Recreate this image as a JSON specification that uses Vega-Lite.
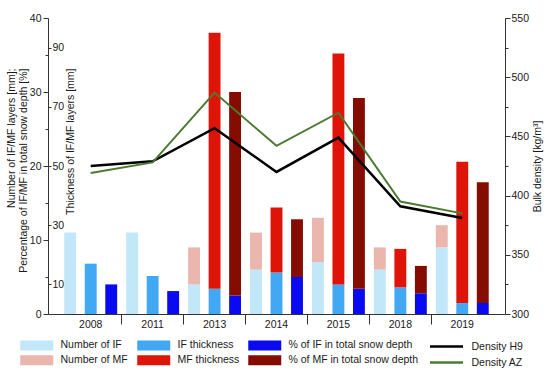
{
  "$schema": "https://vega.github.io/schema/vega-lite/v6.json",
  "width": 457,
  "height": 296,
  "autosize": "none",
  "padding": {"left": 48, "top": 18, "right": 45, "bottom": 58},
  "background": "white",
  "config": {
    "view": {"stroke": null},
    "font": "Liberation Sans",
    "axis": {"labelFont": "Liberation Sans", "labelFontSize": 10.5, "labelColor": "#1a1a1a", "titleFont": "Liberation Sans", "titleFontSize": 10.5, "titleFontWeight": "normal", "titleColor": "#1a1a1a", "domainColor": "#333333", "tickColor": "#333333", "grid": false},
    "legend": {"labelFont": "Liberation Sans", "labelFontSize": 10.5, "labelColor": "#1a1a1a", "padding": 0}
  },
  "datasets": {
    "num": [
      {"year": "2008", "kind": "n", "layer": "IF", "cat": "Number of IF", "value": 11},
      {"year": "2008", "kind": "n", "layer": "MF", "cat": "Number of MF", "value": 0},
      {"year": "2011", "kind": "n", "layer": "IF", "cat": "Number of IF", "value": 11},
      {"year": "2011", "kind": "n", "layer": "MF", "cat": "Number of MF", "value": 0},
      {"year": "2013", "kind": "n", "layer": "IF", "cat": "Number of IF", "value": 4},
      {"year": "2013", "kind": "n", "layer": "MF", "cat": "Number of MF", "value": 5},
      {"year": "2014", "kind": "n", "layer": "IF", "cat": "Number of IF", "value": 6},
      {"year": "2014", "kind": "n", "layer": "MF", "cat": "Number of MF", "value": 5},
      {"year": "2015", "kind": "n", "layer": "IF", "cat": "Number of IF", "value": 7},
      {"year": "2015", "kind": "n", "layer": "MF", "cat": "Number of MF", "value": 6},
      {"year": "2018", "kind": "n", "layer": "IF", "cat": "Number of IF", "value": 6},
      {"year": "2018", "kind": "n", "layer": "MF", "cat": "Number of MF", "value": 3},
      {"year": "2019", "kind": "n", "layer": "IF", "cat": "Number of IF", "value": 9},
      {"year": "2019", "kind": "n", "layer": "MF", "cat": "Number of MF", "value": 3}
    ],
    "pct": [
      {"year": "2008", "kind": "p", "layer": "IF", "cat": "% of IF in total snow depth", "value": 4},
      {"year": "2008", "kind": "p", "layer": "MF", "cat": "% of MF in total snow depth", "value": 0},
      {"year": "2011", "kind": "p", "layer": "IF", "cat": "% of IF in total snow depth", "value": 3.1},
      {"year": "2011", "kind": "p", "layer": "MF", "cat": "% of MF in total snow depth", "value": 0},
      {"year": "2013", "kind": "p", "layer": "IF", "cat": "% of IF in total snow depth", "value": 2.5},
      {"year": "2013", "kind": "p", "layer": "MF", "cat": "% of MF in total snow depth", "value": 27.5},
      {"year": "2014", "kind": "p", "layer": "IF", "cat": "% of IF in total snow depth", "value": 5},
      {"year": "2014", "kind": "p", "layer": "MF", "cat": "% of MF in total snow depth", "value": 7.8},
      {"year": "2015", "kind": "p", "layer": "IF", "cat": "% of IF in total snow depth", "value": 3.4},
      {"year": "2015", "kind": "p", "layer": "MF", "cat": "% of MF in total snow depth", "value": 25.8},
      {"year": "2018", "kind": "p", "layer": "IF", "cat": "% of IF in total snow depth", "value": 2.8},
      {"year": "2018", "kind": "p", "layer": "MF", "cat": "% of MF in total snow depth", "value": 3.7},
      {"year": "2019", "kind": "p", "layer": "IF", "cat": "% of IF in total snow depth", "value": 1.5},
      {"year": "2019", "kind": "p", "layer": "MF", "cat": "% of MF in total snow depth", "value": 16.3}
    ],
    "thk": [
      {"year": "2008", "kind": "t", "layer": "IF", "cat": "IF thickness", "value": 17},
      {"year": "2008", "kind": "t", "layer": "MF", "cat": "MF thickness", "value": 0},
      {"year": "2011", "kind": "t", "layer": "IF", "cat": "IF thickness", "value": 12.8},
      {"year": "2011", "kind": "t", "layer": "MF", "cat": "MF thickness", "value": 0},
      {"year": "2013", "kind": "t", "layer": "IF", "cat": "IF thickness", "value": 8.5},
      {"year": "2013", "kind": "t", "layer": "MF", "cat": "MF thickness", "value": 86.5},
      {"year": "2014", "kind": "t", "layer": "IF", "cat": "IF thickness", "value": 14},
      {"year": "2014", "kind": "t", "layer": "MF", "cat": "MF thickness", "value": 22},
      {"year": "2015", "kind": "t", "layer": "IF", "cat": "IF thickness", "value": 10},
      {"year": "2015", "kind": "t", "layer": "MF", "cat": "MF thickness", "value": 78},
      {"year": "2018", "kind": "t", "layer": "IF", "cat": "IF thickness", "value": 9},
      {"year": "2018", "kind": "t", "layer": "MF", "cat": "MF thickness", "value": 13},
      {"year": "2019", "kind": "t", "layer": "IF", "cat": "IF thickness", "value": 3.7},
      {"year": "2019", "kind": "t", "layer": "MF", "cat": "MF thickness", "value": 47.7}
    ],
    "dens": [
      {"year": "2008", "site": "Density H9", "density": 425},
      {"year": "2011", "site": "Density H9", "density": 429},
      {"year": "2013", "site": "Density H9", "density": 457},
      {"year": "2014", "site": "Density H9", "density": 420},
      {"year": "2015", "site": "Density H9", "density": 449},
      {"year": "2018", "site": "Density H9", "density": 391},
      {"year": "2019", "site": "Density H9", "density": 381},
      {"year": "2008", "site": "Density AZ", "density": 419},
      {"year": "2011", "site": "Density AZ", "density": 428},
      {"year": "2013", "site": "Density AZ", "density": 487},
      {"year": "2014", "site": "Density AZ", "density": 442},
      {"year": "2015", "site": "Density AZ", "density": 470},
      {"year": "2018", "site": "Density AZ", "density": 395},
      {"year": "2019", "site": "Density AZ", "density": 385}
    ]
  },
  "layer": [
    {
      "data": {"name": "num"},
      "mark": {"type": "bar"},
      "encoding": {
        "x": {"field": "year", "type": "nominal", "scale": {"paddingInner": 0, "paddingOuter": 0.19},
              "axis": {"title": null, "bandPosition": 0, "tickSize": 10, "labelPadding": -5, "labelAngle": 0, "labelBaseline": "top", "tickColor": {"condition": {"test": "datum.value === '2008'", "value": "transparent"}, "value": "#333333"}}},
        "xOffset": {"field": "kind", "type": "nominal", "scale": {"domain": ["n", "t", "p"], "paddingInner": 0.42, "paddingOuter": 0.22}},
        "y": {"field": "value", "type": "quantitative", "stack": "zero", "scale": {"domain": [0, 40], "nice": false},
              "axis": {"orient": "left", "values": [0, 10, 20, 30, 40], "tickSize": 5, "labelPadding": 2,
                       "title": ["Number of IF/MF layers [mm];", "Percentage of IF/MF in total snow depth [%]"],
                       "titleAngle": 270, "titleAlign": "right", "titleBaseline": "bottom", "titleX": -32, "titleY": 50, "titleLineHeight": 12}},
        "color": {"field": "cat", "type": "nominal",
                  "scale": {"domain": ["Number of IF", "Number of MF", "IF thickness", "MF thickness", "% of IF in total snow depth", "% of MF in total snow depth"],
                            "range": ["#c2e7f8", "#eab6ae", "#42a8f4", "#de1408", "#0a0af0", "#850c00"]},
                  "legend": {"orient": "none", "legendX": -16.5, "legendY": 322, "columns": 3, "title": null, "symbolType": "M-3.3,-1H3.3V1H-3.3Z", "symbolSize": 100, "labelOffset": 18.5, "columnPadding": 8, "rowPadding": 4, "symbolStrokeWidth": 0}},
        "order": {"field": "layer"}
      }
    },
    {
      "data": {"name": "pct"},
      "mark": {"type": "bar"},
      "encoding": {
        "x": {"field": "year", "type": "nominal", "scale": {"paddingInner": 0, "paddingOuter": 0.19},
              "axis": {"title": null, "bandPosition": 0, "tickSize": 10, "labelPadding": -5, "labelAngle": 0, "labelBaseline": "top", "tickColor": {"condition": {"test": "datum.value === '2008'", "value": "transparent"}, "value": "#333333"}}},
        "xOffset": {"field": "kind", "type": "nominal", "scale": {"domain": ["n", "t", "p"], "paddingInner": 0.42, "paddingOuter": 0.22}},
        "y": {"field": "value", "type": "quantitative", "stack": "zero", "scale": {"domain": [0, 40], "nice": false},
              "axis": {"orient": "left", "values": [5, 15, 25, 35], "labels": false, "tickSize": 3, "domain": false, "title": null}},
        "color": {"field": "cat", "type": "nominal",
                  "scale": {"domain": ["Number of IF", "Number of MF", "IF thickness", "MF thickness", "% of IF in total snow depth", "% of MF in total snow depth"],
                            "range": ["#c2e7f8", "#eab6ae", "#42a8f4", "#de1408", "#0a0af0", "#850c00"]},
                  "legend": {"orient": "none", "legendX": -16.5, "legendY": 322, "columns": 3, "title": null, "symbolType": "M-3.3,-1H3.3V1H-3.3Z", "symbolSize": 100, "labelOffset": 18.5, "columnPadding": 8, "rowPadding": 4, "symbolStrokeWidth": 0}},
        "order": {"field": "layer"}
      }
    },
    {
      "data": {"name": "thk"},
      "mark": {"type": "bar"},
      "encoding": {
        "x": {"field": "year", "type": "nominal", "scale": {"paddingInner": 0, "paddingOuter": 0.19},
              "axis": {"title": null, "bandPosition": 0, "tickSize": 10, "labelPadding": -5, "labelAngle": 0, "labelBaseline": "top", "tickColor": {"condition": {"test": "datum.value === '2008'", "value": "transparent"}, "value": "#333333"}}},
        "xOffset": {"field": "kind", "type": "nominal", "scale": {"domain": ["n", "t", "p"], "paddingInner": 0.42, "paddingOuter": 0.22}},
        "y": {"field": "value", "type": "quantitative", "stack": "zero", "scale": {"domain": [0, 100], "nice": false},
              "axis": {"orient": "right", "offset": -457, "values": [10, 30, 50, 70, 90], "tickSize": 3, "labelPadding": 1, "domain": false,
                       "title": "Thickness of IF/MF layers [mm]", "titleAngle": 270, "titleAlign": "right", "titleBaseline": "top", "titleX": 17, "titleY": 50}},
        "color": {"field": "cat", "type": "nominal",
                  "scale": {"domain": ["Number of IF", "Number of MF", "IF thickness", "MF thickness", "% of IF in total snow depth", "% of MF in total snow depth"],
                            "range": ["#c2e7f8", "#eab6ae", "#42a8f4", "#de1408", "#0a0af0", "#850c00"]},
                  "legend": {"orient": "none", "legendX": -16.5, "legendY": 322, "columns": 3, "title": null, "symbolType": "M-3.3,-1H3.3V1H-3.3Z", "symbolSize": 100, "labelOffset": 18.5, "columnPadding": 8, "rowPadding": 4, "symbolStrokeWidth": 0}},
        "order": {"field": "layer"}
      }
    },
    {
      "data": {"name": "dens"},
      "transform": [{"filter": "datum.site === 'Density H9'"}],
      "mark": {"type": "line", "strokeWidth": 2.5},
      "encoding": {
        "x": {"field": "year", "type": "nominal", "scale": {"paddingInner": 0, "paddingOuter": 0.19},
              "axis": {"title": null, "bandPosition": 0, "tickSize": 10, "labelPadding": -5, "labelAngle": 0, "labelBaseline": "top", "tickColor": {"condition": {"test": "datum.value === '2008'", "value": "transparent"}, "value": "#333333"}}},
        "y": {"field": "density", "type": "quantitative", "scale": {"domain": [300, 550], "nice": false},
              "axis": {"orient": "right", "values": [300, 350, 400, 450, 500, 550], "tickSize": 5, "labelPadding": 1,
                       "title": "Bulk density [kg/m³]", "titleAngle": 270, "titleBaseline": "top", "titleX": 27}},
        "stroke": {"field": "site", "type": "nominal", "scale": {"domain": ["Density H9", "Density AZ"], "range": ["#000000", "#4b7b32"]},
                   "legend": {"orient": "none", "legendX": 392, "legendY": 322, "title": null, "symbolType": "M-3.3,0H3.3", "symbolSize": 100, "symbolStrokeWidth": 2.5, "labelOffset": 18.5, "rowPadding": 4}}
      }
    },
    {
      "data": {"name": "dens"},
      "transform": [{"filter": "datum.site === 'Density AZ'"}],
      "mark": {"type": "line", "strokeWidth": 2},
      "encoding": {
        "x": {"field": "year", "type": "nominal", "scale": {"paddingInner": 0, "paddingOuter": 0.19},
              "axis": {"title": null, "bandPosition": 0, "tickSize": 10, "labelPadding": -5, "labelAngle": 0, "labelBaseline": "top", "tickColor": {"condition": {"test": "datum.value === '2008'", "value": "transparent"}, "value": "#333333"}}},
        "y": {"field": "density", "type": "quantitative", "scale": {"domain": [300, 550], "nice": false},
              "axis": {"orient": "right", "values": [325, 375, 425, 475, 525], "labels": false, "tickSize": 3, "domain": false, "title": null}},
        "stroke": {"field": "site", "type": "nominal", "scale": {"domain": ["Density H9", "Density AZ"], "range": ["#000000", "#4b7b32"]},
                   "legend": {"orient": "none", "legendX": 392, "legendY": 322, "title": null, "symbolType": "M-3.3,0H3.3", "symbolSize": 100, "symbolStrokeWidth": 2.5, "labelOffset": 18.5, "rowPadding": 4}}
      }
    }
  ],
  "resolve": {"scale": {"y": "independent"}}
}
